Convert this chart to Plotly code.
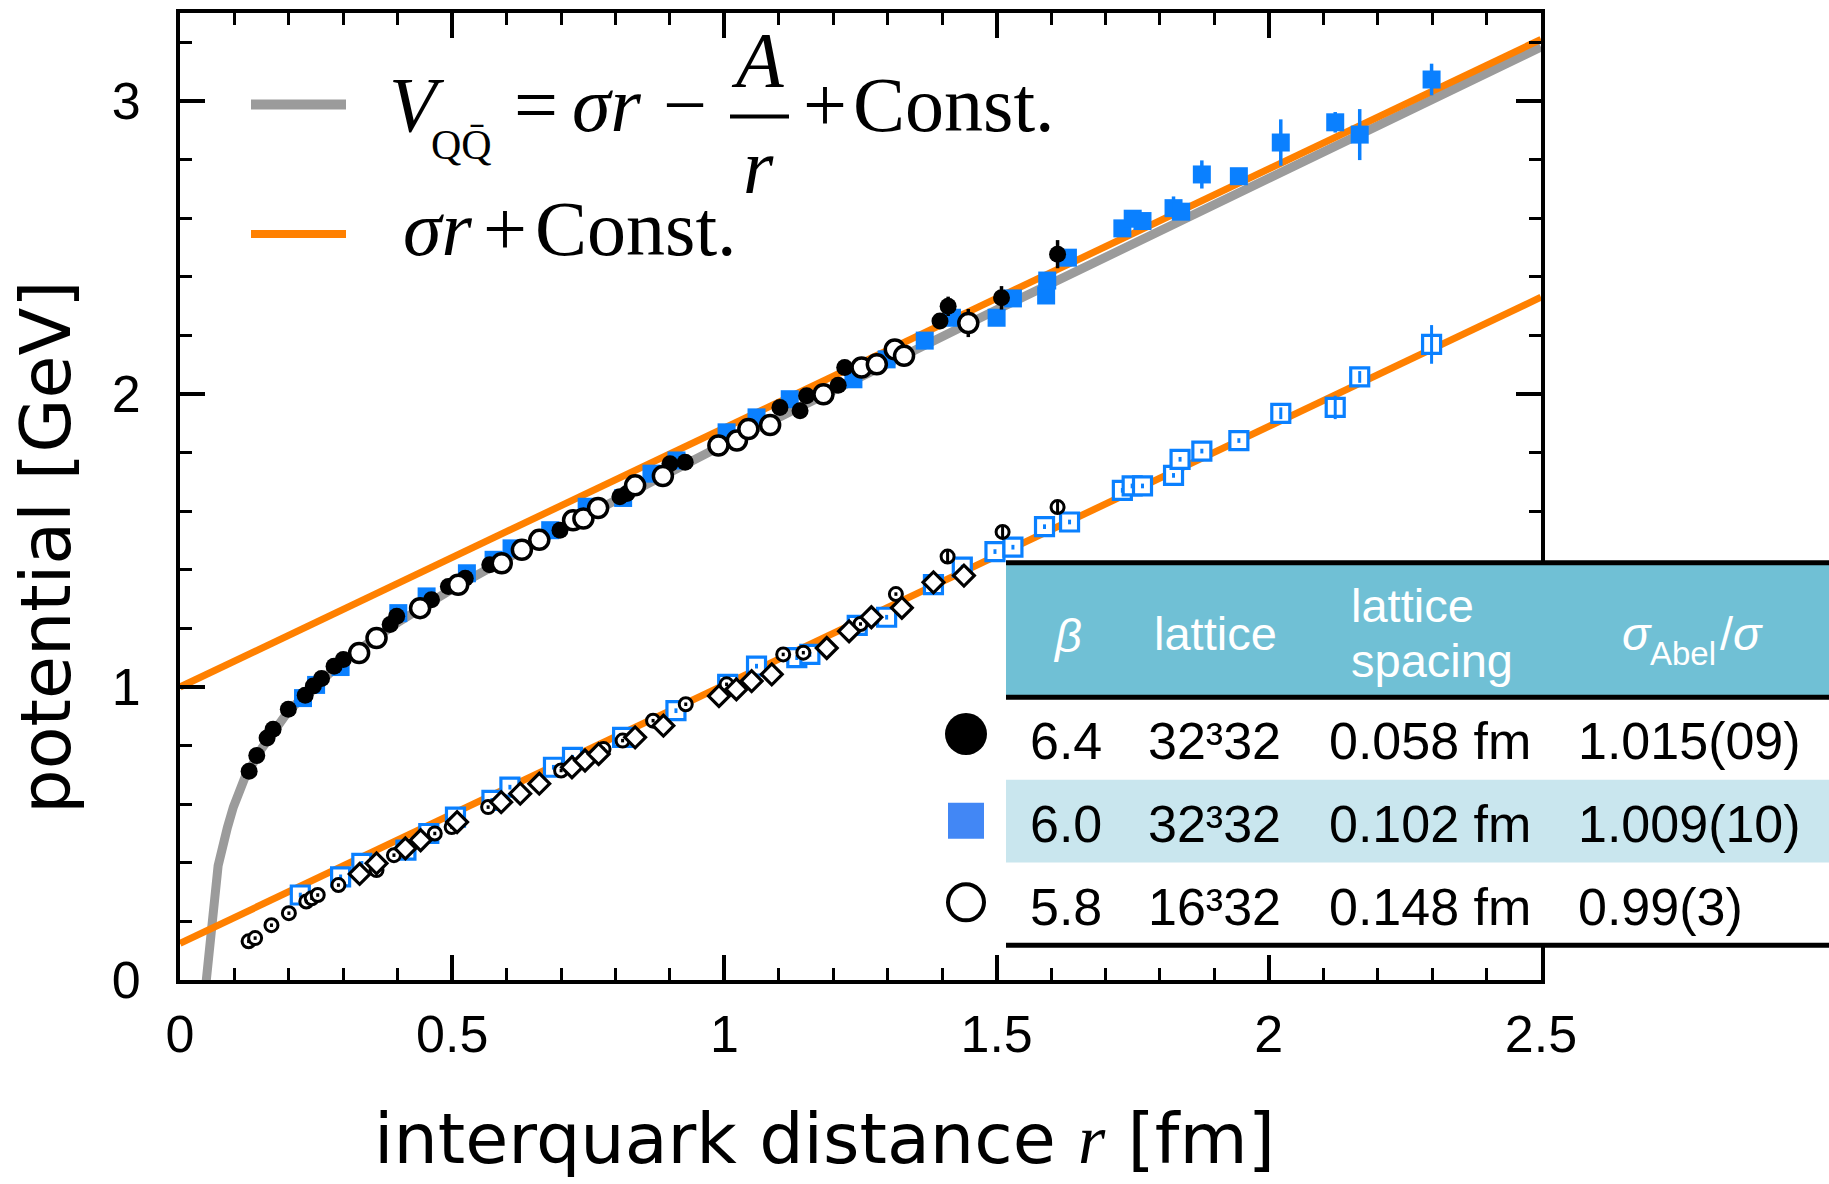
import plotly.graph_objects as go

# ---------------- data ----------------
# full potential, beta = 6.4 (filled black circles)
r_64 = [0.127,0.141,0.160,0.171,0.199,0.230,0.245,0.260,0.283,0.300,0.386,0.398,0.462,0.493,0.524,0.569,0.698,0.808,0.821,0.900,0.928,1.102,1.139,1.151,1.209,1.221,1.396,1.411,1.509,1.612]
V_64 = [0.712,0.766,0.826,0.856,0.924,0.972,1.003,1.029,1.071,1.094,1.213,1.241,1.298,1.343,1.371,1.417,1.535,1.649,1.660,1.762,1.767,1.954,1.943,1.994,2.030,2.090,2.249,2.299,2.328,2.477]
e_64 = [0.005,0.005,0.005,0.005,0.005,0.005,0.005,0.005,0.005,0.005,0.005,0.005,0.005,0.005,0.005,0.005,0.005,0.005,0.005,0.005,0.005,0.005,0.005,0.005,0.005,0.005,0.02,0.033,0.04,0.048]

# full potential, beta = 6.0 (filled blue squares)
r_60 = [0.226,0.250,0.295,0.401,0.453,0.527,0.576,0.609,0.680,0.747,0.814,0.866,0.912,1.004,1.059,1.120,1.237,1.298,1.368,1.418,1.500,1.530,1.591,1.593,1.631,1.731,1.750,1.768,1.825,1.839,1.877,1.945,2.022,2.122,2.167,2.299]
V_60 = [0.962,1.007,1.068,1.252,1.309,1.388,1.434,1.473,1.535,1.615,1.645,1.728,1.773,1.869,1.920,1.982,2.050,2.118,2.182,2.260,2.260,2.326,2.336,2.387,2.465,2.565,2.598,2.590,2.634,2.622,2.749,2.743,2.858,2.927,2.885,3.073]
e_60 = [0.005,0.005,0.005,0.005,0.005,0.005,0.005,0.005,0.005,0.005,0.005,0.005,0.005,0.005,0.005,0.005,0.005,0.005,0.005,0.005,0.005,0.005,0.005,0.005,0.005,0.015,0.025,0.01,0.04,0.01,0.048,0.01,0.079,0.035,0.087,0.054]

# full potential, beta = 5.8 (open circles)
r_58 = [0.329,0.361,0.441,0.511,0.591,0.628,0.660,0.722,0.741,0.768,0.836,0.887,0.989,1.023,1.044,1.084,1.182,1.252,1.280,1.313,1.330,1.448]
V_58 = [1.116,1.167,1.269,1.349,1.422,1.468,1.502,1.569,1.575,1.611,1.688,1.720,1.824,1.841,1.880,1.894,1.999,2.090,2.101,2.152,2.130,2.242]
e_58 = [0.005,0.005,0.005,0.005,0.005,0.005,0.005,0.005,0.005,0.005,0.005,0.005,0.005,0.005,0.005,0.005,0.005,0.005,0.005,0.005,0.005,0.048]

# Abelian part, beta = 6.4 (small open circles)
r_a64 = [0.126,0.138,0.168,0.200,0.232,0.242,0.253,0.291,0.361,0.393,0.468,0.499,0.566,0.700,0.778,0.813,0.869,0.929,1.004,1.108,1.145,1.250,1.315,1.410,1.511,1.612]
V_a64 = [0.132,0.143,0.187,0.228,0.268,0.279,0.290,0.324,0.375,0.426,0.500,0.522,0.590,0.715,0.788,0.817,0.885,0.941,1.009,1.111,1.117,1.215,1.317,1.445,1.529,1.614]
e_a64 = [0.006,0.006,0.006,0.006,0.006,0.006,0.006,0.006,0.006,0.006,0.006,0.006,0.006,0.006,0.006,0.006,0.006,0.006,0.006,0.006,0.006,0.006,0.006,0.02,0.02,0.02]

# Abelian part, beta = 6.0 (open blue squares)
r_a60 = [0.221,0.295,0.334,0.415,0.457,0.506,0.573,0.606,0.686,0.721,0.813,0.911,1.006,1.059,1.133,1.157,1.244,1.298,1.384,1.437,1.497,1.530,1.588,1.634,1.731,1.749,1.768,1.825,1.837,1.877,1.945,2.022,2.122,2.167,2.299]
V_a60 = [0.290,0.352,0.398,0.443,0.500,0.556,0.613,0.658,0.726,0.760,0.828,0.919,1.009,1.071,1.100,1.111,1.210,1.238,1.349,1.409,1.462,1.477,1.547,1.563,1.671,1.686,1.686,1.722,1.777,1.805,1.841,1.934,1.954,2.058,2.169]
e_a60 = [0.008,0.008,0.008,0.008,0.008,0.008,0.008,0.008,0.008,0.008,0.008,0.008,0.008,0.008,0.008,0.008,0.008,0.008,0.008,0.008,0.008,0.008,0.008,0.008,0.008,0.008,0.008,0.008,0.008,0.008,0.008,0.02,0.04,0.02,0.066]

# Abelian part, beta = 5.8 (open diamonds)
r_a58 = [0.330,0.361,0.414,0.442,0.509,0.590,0.625,0.660,0.720,0.744,0.769,0.836,0.888,0.990,1.022,1.050,1.087,1.188,1.229,1.270,1.326,1.384,1.440]
V_a58 = [0.362,0.398,0.449,0.477,0.539,0.607,0.636,0.670,0.726,0.749,0.771,0.828,0.868,0.969,0.992,1.020,1.043,1.133,1.190,1.238,1.270,1.357,1.380]

# fit curves
r_cornell = [0.045,0.049,0.059,0.070,0.087,0.098,0.119,0.15,0.2,0.25,0.3,0.4,0.5,0.7,1.0,1.5,2.0,2.5]
V_cornell = [-0.06,0.01,0.22,0.39,0.52,0.59,0.69,0.79,0.92,1.01,1.09,1.22,1.335,1.541,1.828,2.287,2.737,3.184]
r_lin = [0.0, 2.5]
V_lin_full = [1.00, 3.21]
V_lin_abel = [0.125, 2.33]

# table
tab_beta = ["6.4", "6.0", "5.8"]
tab_lattice = ["32³32", "32³32", "16³32"]
tab_spacing = ["0.058 fm", "0.102 fm", "0.148 fm"]
tab_ratio = ["1.015(09)", "1.009(10)", "0.99(3)"]

# ---------------- styling ----------------
BLUE = "#0a80ff"
ORANGE = "#ff8000"
GRAY = "#9b9b9b"
SANS = "Liberation Sans"
WIDE = "DejaVu Sans"
SERIF = "Liberation Serif"

L, R, T, B = 180, 288, 9, 204
W, H = 1829, 1184
PW, PH = W - L - R, H - T - B


def PX(X):
    return (X - L) / PW


def PY(Y):
    return (H - B - Y) / PH


fig = go.Figure()

fig.add_trace(go.Scatter(x=r_cornell, y=V_cornell, mode="lines",
                         line=dict(color=GRAY, width=9), hoverinfo="skip"))
fig.add_trace(go.Scatter(x=r_lin, y=V_lin_full, mode="lines",
                         line=dict(color=ORANGE, width=7), hoverinfo="skip"))
fig.add_trace(go.Scatter(x=r_lin, y=V_lin_abel, mode="lines",
                         line=dict(color=ORANGE, width=7), hoverinfo="skip"))

# Abelian part
fig.add_trace(go.Scatter(x=r_a60, y=V_a60, mode="markers",
                         marker=dict(symbol="square", size=18, color="white",
                                     line=dict(color=BLUE, width=3.2))))
fig.add_trace(go.Scatter(x=r_a60, y=V_a60, mode="markers",
                         marker=dict(size=1, color="rgba(0,0,0,0)"),
                         error_y=dict(type="data", array=e_a60, width=0, thickness=3, color=BLUE)))
fig.add_trace(go.Scatter(x=r_a64, y=V_a64, mode="markers",
                         marker=dict(symbol="circle", size=13, color="white",
                                     line=dict(color="black", width=3))))
fig.add_trace(go.Scatter(x=r_a64, y=V_a64, mode="markers",
                         marker=dict(size=1, color="rgba(0,0,0,0)"),
                         error_y=dict(type="data", array=e_a64, width=0, thickness=3, color="black")))
fig.add_trace(go.Scatter(x=r_a58, y=V_a58, mode="markers",
                         marker=dict(symbol="diamond", size=16, color="white",
                                     line=dict(color="black", width=3.2))))

# full potential
fig.add_trace(go.Scatter(x=r_60, y=V_60, mode="markers",
                         marker=dict(symbol="square", size=18, color=BLUE),
                         error_y=dict(type="data", array=e_60, width=0, thickness=3.5, color=BLUE)))
fig.add_trace(go.Scatter(x=r_64, y=V_64, mode="markers",
                         marker=dict(symbol="circle", size=17, color="black"),
                         error_y=dict(type="data", array=e_64, width=0, thickness=3.5, color="black")))
fig.add_trace(go.Scatter(x=r_58, y=V_58, mode="markers",
                         marker=dict(symbol="circle", size=19, color="white",
                                     line=dict(color="black", width=3.5)),
                         error_y=dict(type="data", array=e_58, width=0, thickness=3.5, color="black")))

axis_common = dict(showline=True, linewidth=4, linecolor="black", mirror="ticks",
                   ticks="inside", ticklen=25, tickwidth=3.5, tickcolor="black",
                   showgrid=False, zeroline=False,
                   tickfont=dict(family=SANS, size=52, color="black"))

fig.update_xaxes(range=[0, 2.5], tick0=0, dtick=0.5,
                 minor=dict(dtick=0.1, ticks="inside", ticklen=12, tickwidth=3, tickcolor="black"),
                 ticklabelstandoff=6, **axis_common)
fig.update_yaxes(range=[0, 3.3], tick0=0, dtick=1,
                 minor=dict(dtick=0.2, ticks="inside", ticklen=12, tickwidth=3, tickcolor="black"),
                 ticklabelstandoff=25, **axis_common)

shapes = []
ann = []

# legend lines (top-left)
shapes.append(dict(type="line", xref="paper", yref="paper", x0=PX(251), x1=PX(346),
                   y0=PY(101), y1=PY(101), line=dict(color=GRAY, width=10)))
shapes.append(dict(type="line", xref="paper", yref="paper", x0=PX(251), x1=PX(346),
                   y0=PY(231), y1=PY(231), line=dict(color=ORANGE, width=8)))


def text(X, Y, s, size, family=SANS, color="black", xanchor="left", yanchor="middle", angle=0):
    ann.append(dict(x=PX(X), y=PY(Y), xref="paper", yref="paper", text=s, showarrow=False,
                    xanchor=xanchor, yanchor=yanchor, textangle=angle,
                    font=dict(family=family, size=size, color=color), borderpad=0))


# legend formula
text(388, 101, "<i>V</i>", 78, SERIF)
text(430, 142, "QQ\u0304", 42, SERIF)
text(513, 101, "=", 78, SERIF)
text(571, 101, "<i>σr</i>", 78, SERIF)
text(662, 101, "−", 78, SERIF)
text(757, 56, "<i>A</i>", 78, SERIF, xanchor="center")
shapes.append(dict(type="line", xref="paper", yref="paper", x0=PX(730), x1=PX(789),
                   y0=PY(113), y1=PY(113), line=dict(color="black", width=4)))
text(758, 163, "<i>r</i>", 78, SERIF, xanchor="center")
text(802, 101, "+", 78, SERIF)
text(852, 101, "Const.", 78, SERIF)
text(402, 225, "<i>σr</i>", 78, SERIF)
text(482, 225, "+", 78, SERIF)
text(534, 225, "Const.", 78, SERIF)

# axis titles
text(824, 1140, "interquark distance <span style='font-family:Liberation Serif'><i>r</i></span> [fm]",
     70, WIDE, xanchor="center")
text(46, 546, "potential [GeV]", 70, WIDE, xanchor="center", angle=-90)

# table
TL, TR = 1006, 1835
shapes.append(dict(type="rect", xref="paper", yref="paper", layer="above",
                   x0=PX(TL), x1=PX(TR), y0=PY(945), y1=PY(561),
                   line=dict(width=0), fillcolor="white"))
shapes.append(dict(type="rect", xref="paper", yref="paper", layer="above",
                   x0=PX(TL), x1=PX(TR), y0=PY(695), y1=PY(561),
                   line=dict(width=0), fillcolor="#70c0d5"))
shapes.append(dict(type="rect", xref="paper", yref="paper", layer="above",
                   x0=PX(TL), x1=PX(TR), y0=PY(862), y1=PY(779),
                   line=dict(width=0), fillcolor="#c9e6ee"))
for Yl in (561, 696, 945):
    shapes.append(dict(type="line", xref="paper", yref="paper", layer="above",
                       x0=PX(TL), x1=PX(TR), y0=PY(Yl), y1=PY(Yl),
                       line=dict(color="black", width=5)))

# table legend markers
MX = PX(966)
shapes.append(dict(type="circle", xref="paper", yref="paper", layer="above",
                   xsizemode="pixel", ysizemode="pixel", xanchor=MX, yanchor=PY(733),
                   x0=-21, x1=21, y0=-21, y1=21, fillcolor="black", line=dict(width=0)))
shapes.append(dict(type="rect", xref="paper", yref="paper", layer="above",
                   xsizemode="pixel", ysizemode="pixel", xanchor=MX, yanchor=PY(820),
                   x0=-18, x1=18, y0=-18, y1=18, fillcolor="#4287f5", line=dict(width=0)))
shapes.append(dict(type="circle", xref="paper", yref="paper", layer="above",
                   xsizemode="pixel", ysizemode="pixel", xanchor=MX, yanchor=PY(902),
                   x0=-18, x1=18, y0=-18, y1=18, fillcolor="white",
                   line=dict(color="black", width=4)))

# header
text(1067, 634, "<i>β</i>", 47, SANS, "white", xanchor="center")
text(1215, 632, "lattice", 47, SANS, "white", xanchor="center")
text(1350, 604, "lattice", 47, SANS, "white")
text(1350, 659, "spacing", 47, SANS, "white")
text(1621, 632, "<i>σ</i>", 47, SANS, "white")
text(1649, 652, "Abel", 33, SANS, "white")
text(1719, 632, "/<i>σ</i>", 47, SANS, "white")

# rows
row_y = [740, 823, 907]
for i in range(3):
    text(1029, row_y[i], tab_beta[i], 52)
    text(1147, row_y[i], tab_lattice[i], 52)
    text(1328, row_y[i], tab_spacing[i], 52)
    text(1577, row_y[i], tab_ratio[i], 52)

fig.update_layout(width=W, height=H, margin=dict(l=L, r=R, t=T, b=B),
                  plot_bgcolor="white", paper_bgcolor="white", showlegend=False,
                  font=dict(family=SANS), shapes=shapes, annotations=ann)

fig.write_html("out.html")
